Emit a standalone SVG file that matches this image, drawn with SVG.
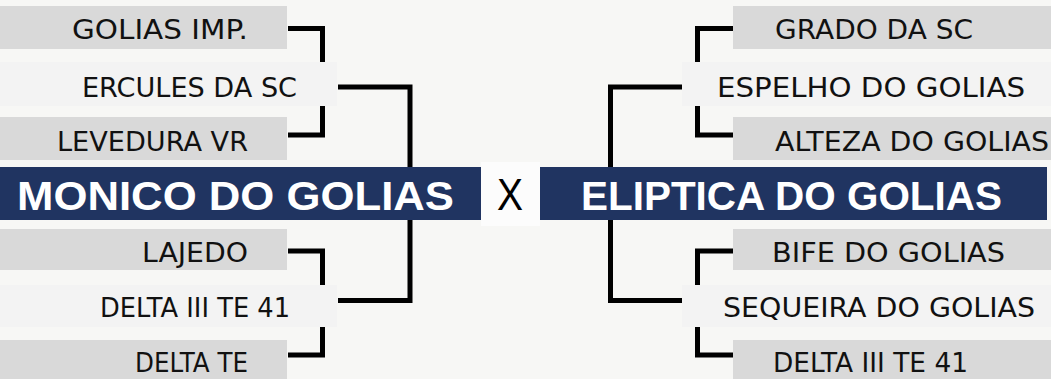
<svg xmlns="http://www.w3.org/2000/svg" width="1051" height="379" viewBox="0 0 1051 379">
<style>
.bg{fill:#f7f7f5}
.gray{fill:#d9d9d9}
.light{fill:#f3f3f3}
.bar{fill:#203461}
.t{font-family:"DejaVu Sans","Liberation Sans",sans-serif;font-size:26px;fill:#111}
.tl{text-anchor:end}
.big{font-family:"Liberation Sans","DejaVu Sans",sans-serif;font-size:41px;font-weight:bold;fill:#fff}
.x{font-family:"Liberation Sans","DejaVu Sans",sans-serif;font-size:44px;fill:#000}
.c{fill:none;stroke:#000;stroke-width:5;stroke-linejoin:miter;stroke-linecap:butt}
</style>
<rect class="bg" x="0" y="0" width="1051" height="379"/>
<rect x="481" y="162" width="59" height="64" fill="#fcfcfc"/>

<g id="connectors">
<path class="c" d="M288,28.5 H322.5 V62"/>
<path class="c" d="M322.5,106 V135 H288"/>
<path class="c" d="M338,87 H410 V167"/>
<path class="c" d="M288,251 H322.5 V285"/>
<path class="c" d="M322.5,327 V355 H288"/>
<path class="c" d="M338,300.5 H410 V220"/>
<path class="c" d="M733,28.5 H697.5 V62"/>
<path class="c" d="M697.5,106 V135 H733"/>
<path class="c" d="M682,87 H610.5 V167"/>
<path class="c" d="M733,251 H697.5 V285"/>
<path class="c" d="M697.5,327 V355 H733"/>
<path class="c" d="M682,300.5 H610.5 V220"/>
</g>

<g id="golias-imp"><rect class="gray" x="0" y="6" width="287" height="43"/><text class="t tl" x="248" y="39" textLength="176" lengthAdjust="spacingAndGlyphs">GOLIAS IMP.</text></g>
<g id="ercules-da-sc"><rect class="light" x="0" y="62" width="337" height="44"/><text class="t tl" x="297" y="97" textLength="215" lengthAdjust="spacingAndGlyphs">ERCULES DA SC</text></g>
<g id="levedura-vr"><rect class="gray" x="0" y="117" width="287" height="43"/><text class="t tl" x="248" y="150.5" textLength="191" lengthAdjust="spacingAndGlyphs">LEVEDURA VR</text></g>
<g id="monico-do-golias"><rect class="bar" x="0" y="167" width="481" height="53"/><text class="big" x="17" y="210" textLength="437" lengthAdjust="spacingAndGlyphs">MONICO DO GOLIAS</text></g>
<g id="lajedo"><rect class="gray" x="0" y="229" width="287" height="41"/><text class="t tl" x="248" y="262" textLength="106" lengthAdjust="spacingAndGlyphs">LAJEDO</text></g>
<g id="delta-iii-te-41-left"><rect class="light" x="0" y="285" width="337" height="42"/><text class="t tl" x="290" y="317" textLength="190" lengthAdjust="spacingAndGlyphs">DELTA III TE 41</text></g>
<g id="delta-te"><rect class="gray" x="0" y="340" width="287" height="39"/><text class="t tl" x="248" y="372" textLength="113" lengthAdjust="spacingAndGlyphs">DELTA TE</text></g>

<g id="versus"><text class="x" x="497" y="210" textLength="26" lengthAdjust="spacingAndGlyphs">X</text></g>

<g id="grado-da-sc"><rect class="gray" x="733" y="6" width="318" height="43"/><text class="t" x="775" y="39" textLength="198" lengthAdjust="spacingAndGlyphs">GRADO DA SC</text></g>
<g id="espelho-do-golias"><rect class="light" x="682" y="62" width="369" height="44"/><text class="t" x="717" y="97" textLength="308" lengthAdjust="spacingAndGlyphs">ESPELHO DO GOLIAS</text></g>
<g id="alteza-do-golias"><rect class="gray" x="733" y="117" width="318" height="43"/><text class="t" x="775" y="150.5" textLength="274" lengthAdjust="spacingAndGlyphs">ALTEZA DO GOLIAS</text></g>
<g id="eliptica-do-golias"><rect class="bar" x="540" y="167" width="507" height="53"/><text class="big" x="581" y="210" textLength="421" lengthAdjust="spacingAndGlyphs">ELIPTICA DO GOLIAS</text></g>
<g id="bife-do-golias"><rect class="gray" x="733" y="229" width="318" height="41"/><text class="t" x="772" y="262" textLength="233" lengthAdjust="spacingAndGlyphs">BIFE DO GOLIAS</text></g>
<g id="sequeira-do-golias"><rect class="light" x="682" y="285" width="369" height="42"/><text class="t" x="723" y="317" textLength="312" lengthAdjust="spacingAndGlyphs">SEQUEIRA DO GOLIAS</text></g>
<g id="delta-iii-te-41-right"><rect class="gray" x="733" y="340" width="318" height="39"/><text class="t" x="773" y="372" textLength="195" lengthAdjust="spacingAndGlyphs">DELTA III TE 41</text></g>
</svg>
